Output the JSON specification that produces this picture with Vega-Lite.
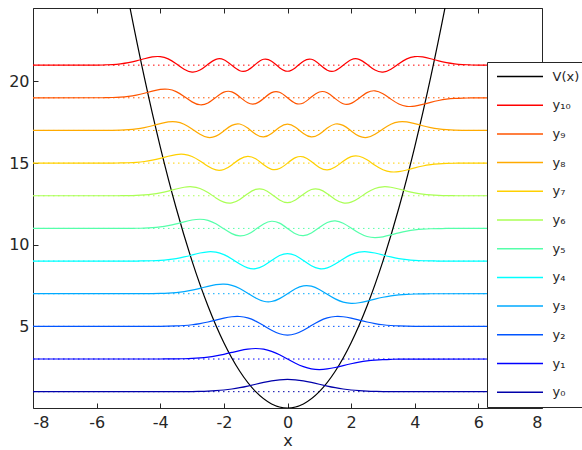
{
  "$schema": "https://vega.github.io/schema/vega-lite/v6.json",
  "width": 509,
  "height": 400,
  "autosize": {"type": "none"},
  "padding": {"left": 33, "top": 8, "right": 40, "bottom": 42},
  "background": "white",
  "config": {
    "font": "DejaVu Sans",
    "view": {"stroke": "#262626", "strokeWidth": 1},
    "axis": {"grid": false, "domain": false, "tickSize": -5, "tickColor": "#262626", "labelFont": "DejaVu Sans", "labelFontSize": 16, "labelColor": "#262626", "titleFont": "DejaVu Sans", "titleFontSize": 16, "titleFontWeight": "normal", "titleColor": "#262626"},
    "legend": {"symbolType": "stroke", "symbolSize": 2116, "symbolStrokeWidth": 1.5, "symbolOffset": 2.5, "labelOffset": 8.5, "labelFont": "DejaVu Sans", "labelFontSize": 13, "labelColor": "#262626", "labelLimit": 0, "clipHeight": 16, "rowPadding": 12.7, "padding": 6.5, "fillColor": "white", "strokeColor": "#262626", "cornerRadius": 0}
  },
  "datasets": {
    "levels": [
      {"s": "y₀", "E": 1}, {"s": "y₁", "E": 3}, {"s": "y₂", "E": 5}, {"s": "y₃", "E": 7}, {"s": "y₄", "E": 9}, {"s": "y₅", "E": 11},
      {"s": "y₆", "E": 13}, {"s": "y₇", "E": 15}, {"s": "y₈", "E": 17}, {"s": "y₉", "E": 19}, {"s": "y₁₀", "E": 21}
    ],
    "curves": [
      {"s": "V(x)", "x": -6, "y": 36}, {"s": "V(x)", "x": -5.5, "y": 30.25}, {"s": "V(x)", "x": -5, "y": 25}, {"s": "V(x)", "x": -4.5, "y": 20.25}, {"s": "V(x)", "x": -4, "y": 16}, {"s": "V(x)", "x": -3.5, "y": 12.25}, {"s": "V(x)", "x": -3, "y": 9}, {"s": "V(x)", "x": -2.5, "y": 6.25}, {"s": "V(x)", "x": -2, "y": 4}, {"s": "V(x)", "x": -1.5, "y": 2.25}, {"s": "V(x)", "x": -1, "y": 1}, {"s": "V(x)", "x": -0.5, "y": 0.25}, {"s": "V(x)", "x": 0, "y": 0},
      {"s": "V(x)", "x": 0.5, "y": 0.25}, {"s": "V(x)", "x": 1, "y": 1}, {"s": "V(x)", "x": 1.5, "y": 2.25}, {"s": "V(x)", "x": 2, "y": 4}, {"s": "V(x)", "x": 2.5, "y": 6.25}, {"s": "V(x)", "x": 3, "y": 9}, {"s": "V(x)", "x": 3.5, "y": 12.25}, {"s": "V(x)", "x": 4, "y": 16}, {"s": "V(x)", "x": 4.5, "y": 20.25}, {"s": "V(x)", "x": 5, "y": 25}, {"s": "V(x)", "x": 5.5, "y": 30.25}, {"s": "V(x)", "x": 6, "y": 36},

      {"s": "y₁₀", "x": -8, "y": 21}, {"s": "y₁₀", "x": -6, "y": 21.0057}, {"s": "y₁₀", "x": -5.75, "y": 21.0149}, {"s": "y₁₀", "x": -5.5, "y": 21.0358}, {"s": "y₁₀", "x": -5.25, "y": 21.0774}, {"s": "y₁₀", "x": -5, "y": 21.1504}, {"s": "y₁₀", "x": -4.75, "y": 21.2595}, {"s": "y₁₀", "x": -4.5, "y": 21.3913}, {"s": "y₁₀", "x": -4.25, "y": 21.5021}, {"s": "y₁₀", "x": -4, "y": 21.5208}, {"s": "y₁₀", "x": -3.75, "y": 21.3824}, {"s": "y₁₀", "x": -3.5, "y": 21.0886}, {"s": "y₁₀", "x": -3.25, "y": 20.7545}, {"s": "y₁₀", "x": -3, "y": 20.5765}, {"s": "y₁₀", "x": -2.75, "y": 20.697}, {"s": "y₁₀", "x": -2.5, "y": 21.051}, {"s": "y₁₀", "x": -2.25, "y": 21.3568}, {"s": "y₁₀", "x": -2, "y": 21.3342}, {"s": "y₁₀", "x": -1.75, "y": 20.989}, {"s": "y₁₀", "x": -1.5, "y": 20.6584}, {"s": "y₁₀", "x": -1.25, "y": 20.6916}, {"s": "y₁₀", "x": -1, "y": 21.0615}, {"s": "y₁₀", "x": -0.75, "y": 21.3603}, {"s": "y₁₀", "x": -0.5, "y": 21.2457}, {"s": "y₁₀", "x": -0.25, "y": 20.8462}, {"s": "y₁₀", "x": 0, "y": 20.6274},
      {"s": "y₁₀", "x": 0.25, "y": 20.8462}, {"s": "y₁₀", "x": 0.5, "y": 21.2457}, {"s": "y₁₀", "x": 0.75, "y": 21.3603}, {"s": "y₁₀", "x": 1, "y": 21.0615}, {"s": "y₁₀", "x": 1.25, "y": 20.6916}, {"s": "y₁₀", "x": 1.5, "y": 20.6584}, {"s": "y₁₀", "x": 1.75, "y": 20.989}, {"s": "y₁₀", "x": 2, "y": 21.3342}, {"s": "y₁₀", "x": 2.25, "y": 21.3568}, {"s": "y₁₀", "x": 2.5, "y": 21.051}, {"s": "y₁₀", "x": 2.75, "y": 20.697}, {"s": "y₁₀", "x": 3, "y": 20.5765}, {"s": "y₁₀", "x": 3.25, "y": 20.7545}, {"s": "y₁₀", "x": 3.5, "y": 21.0886}, {"s": "y₁₀", "x": 3.75, "y": 21.3824}, {"s": "y₁₀", "x": 4, "y": 21.5208}, {"s": "y₁₀", "x": 4.25, "y": 21.5021}, {"s": "y₁₀", "x": 4.5, "y": 21.3913}, {"s": "y₁₀", "x": 4.75, "y": 21.2595}, {"s": "y₁₀", "x": 5, "y": 21.1504}, {"s": "y₁₀", "x": 5.25, "y": 21.0774}, {"s": "y₁₀", "x": 5.5, "y": 21.0358}, {"s": "y₁₀", "x": 5.75, "y": 21.0149}, {"s": "y₁₀", "x": 6, "y": 21.0057}, {"s": "y₁₀", "x": 8, "y": 21},

      {"s": "y₉", "x": -8, "y": 19}, {"s": "y₉", "x": -6, "y": 19.0026}, {"s": "y₉", "x": -5.75, "y": 19.007}, {"s": "y₉", "x": -5.5, "y": 19.0176}, {"s": "y₉", "x": -5.25, "y": 19.041}, {"s": "y₉", "x": -5, "y": 19.0865}, {"s": "y₉", "x": -4.75, "y": 19.1639}, {"s": "y₉", "x": -4.5, "y": 19.2762}, {"s": "y₉", "x": -4.25, "y": 19.4075}, {"s": "y₉", "x": -4, "y": 19.5126}, {"s": "y₉", "x": -3.75, "y": 19.522}, {"s": "y₉", "x": -3.5, "y": 19.376}, {"s": "y₉", "x": -3.25, "y": 19.0811}, {"s": "y₉", "x": -3, "y": 18.7509}, {"s": "y₉", "x": -2.75, "y": 18.5724}, {"s": "y₉", "x": -2.5, "y": 18.6822}, {"s": "y₉", "x": -2.25, "y": 19.0265}, {"s": "y₉", "x": -2, "y": 19.3441}, {"s": "y₉", "x": -1.75, "y": 19.3628}, {"s": "y₉", "x": -1.5, "y": 19.0507}, {"s": "y₉", "x": -1.25, "y": 18.6928}, {"s": "y₉", "x": -1, "y": 18.6417}, {"s": "y₉", "x": -0.75, "y": 18.9563}, {"s": "y₉", "x": -0.5, "y": 19.3152}, {"s": "y₉", "x": -0.25, "y": 19.339}, {"s": "y₉", "x": 0, "y": 19},
      {"s": "y₉", "x": 0.25, "y": 18.661}, {"s": "y₉", "x": 0.5, "y": 18.6848}, {"s": "y₉", "x": 0.75, "y": 19.0437}, {"s": "y₉", "x": 1, "y": 19.3583}, {"s": "y₉", "x": 1.25, "y": 19.3072}, {"s": "y₉", "x": 1.5, "y": 18.9493}, {"s": "y₉", "x": 1.75, "y": 18.6372}, {"s": "y₉", "x": 2, "y": 18.6559}, {"s": "y₉", "x": 2.25, "y": 18.9735}, {"s": "y₉", "x": 2.5, "y": 19.3178}, {"s": "y₉", "x": 2.75, "y": 19.4276}, {"s": "y₉", "x": 3, "y": 19.2491}, {"s": "y₉", "x": 3.25, "y": 18.9189}, {"s": "y₉", "x": 3.5, "y": 18.624}, {"s": "y₉", "x": 3.75, "y": 18.478}, {"s": "y₉", "x": 4, "y": 18.4874}, {"s": "y₉", "x": 4.25, "y": 18.5925}, {"s": "y₉", "x": 4.5, "y": 18.7238}, {"s": "y₉", "x": 4.75, "y": 18.8361}, {"s": "y₉", "x": 5, "y": 18.9135}, {"s": "y₉", "x": 5.25, "y": 18.959}, {"s": "y₉", "x": 5.5, "y": 18.9824}, {"s": "y₉", "x": 5.75, "y": 18.993}, {"s": "y₉", "x": 6, "y": 18.9974}, {"s": "y₉", "x": 8, "y": 19},

      {"s": "y₈", "x": -8, "y": 17}, {"s": "y₈", "x": -6, "y": 17.001}, {"s": "y₈", "x": -5.75, "y": 17.003}, {"s": "y₈", "x": -5.5, "y": 17.008}, {"s": "y₈", "x": -5.25, "y": 17.02}, {"s": "y₈", "x": -5, "y": 17.0454}, {"s": "y₈", "x": -4.75, "y": 17.0935}, {"s": "y₈", "x": -4.5, "y": 17.1735}, {"s": "y₈", "x": -4.25, "y": 17.2873}, {"s": "y₈", "x": -4, "y": 17.4176}, {"s": "y₈", "x": -3.75, "y": 17.5197}, {"s": "y₈", "x": -3.5, "y": 17.5269}, {"s": "y₈", "x": -3.25, "y": 17.3831}, {"s": "y₈", "x": -3, "y": 17.0941}, {"s": "y₈", "x": -2.75, "y": 16.7651}, {"s": "y₈", "x": -2.5, "y": 16.5717}, {"s": "y₈", "x": -2.25, "y": 16.652}, {"s": "y₈", "x": -2, "y": 16.9722}, {"s": "y₈", "x": -1.75, "y": 17.3109}, {"s": "y₈", "x": -1.5, "y": 17.396}, {"s": "y₈", "x": -1.25, "y": 17.1441}, {"s": "y₈", "x": -1, "y": 16.7663}, {"s": "y₈", "x": -0.75, "y": 16.6047}, {"s": "y₈", "x": -0.5, "y": 16.8153}, {"s": "y₈", "x": -0.25, "y": 17.202}, {"s": "y₈", "x": 0, "y": 17.3928},
      {"s": "y₈", "x": 0.25, "y": 17.202}, {"s": "y₈", "x": 0.5, "y": 16.8153}, {"s": "y₈", "x": 0.75, "y": 16.6047}, {"s": "y₈", "x": 1, "y": 16.7663}, {"s": "y₈", "x": 1.25, "y": 17.1441}, {"s": "y₈", "x": 1.5, "y": 17.396}, {"s": "y₈", "x": 1.75, "y": 17.3109}, {"s": "y₈", "x": 2, "y": 16.9722}, {"s": "y₈", "x": 2.25, "y": 16.652}, {"s": "y₈", "x": 2.5, "y": 16.5717}, {"s": "y₈", "x": 2.75, "y": 16.7651}, {"s": "y₈", "x": 3, "y": 17.0941}, {"s": "y₈", "x": 3.25, "y": 17.3831}, {"s": "y₈", "x": 3.5, "y": 17.5269}, {"s": "y₈", "x": 3.75, "y": 17.5197}, {"s": "y₈", "x": 4, "y": 17.4176}, {"s": "y₈", "x": 4.25, "y": 17.2873}, {"s": "y₈", "x": 4.5, "y": 17.1735}, {"s": "y₈", "x": 4.75, "y": 17.0935}, {"s": "y₈", "x": 5, "y": 17.0454}, {"s": "y₈", "x": 5.25, "y": 17.02}, {"s": "y₈", "x": 5.5, "y": 17.008}, {"s": "y₈", "x": 5.75, "y": 17.003}, {"s": "y₈", "x": 6, "y": 17.001}, {"s": "y₈", "x": 8, "y": 17},

      {"s": "y₇", "x": -8, "y": 15}, {"s": "y₇", "x": -5.75, "y": 15.0012}, {"s": "y₇", "x": -5.5, "y": 15.0034}, {"s": "y₇", "x": -5.25, "y": 15.0089}, {"s": "y₇", "x": -5, "y": 15.0216}, {"s": "y₇", "x": -4.75, "y": 15.0482}, {"s": "y₇", "x": -4.5, "y": 15.0975}, {"s": "y₇", "x": -4.25, "y": 15.1782}, {"s": "y₇", "x": -4, "y": 15.2915}, {"s": "y₇", "x": -3.75, "y": 15.4208}, {"s": "y₇", "x": -3.5, "y": 15.5233}, {"s": "y₇", "x": -3.25, "y": 15.5365}, {"s": "y₇", "x": -3, "y": 15.4054}, {"s": "y₇", "x": -2.75, "y": 15.1305}, {"s": "y₇", "x": -2.5, "y": 14.8017}, {"s": "y₇", "x": -2.25, "y": 14.5804}, {"s": "y₇", "x": -2, "y": 14.6072}, {"s": "y₇", "x": -1.75, "y": 14.8872}, {"s": "y₇", "x": -1.5, "y": 15.2432}, {"s": "y₇", "x": -1.25, "y": 15.4159}, {"s": "y₇", "x": -1, "y": 15.2632}, {"s": "y₇", "x": -0.75, "y": 14.8981}, {"s": "y₇", "x": -0.5, "y": 14.6195}, {"s": "y₇", "x": -0.25, "y": 14.6657}, {"s": "y₇", "x": 0, "y": 15},
      {"s": "y₇", "x": 0.25, "y": 15.3343}, {"s": "y₇", "x": 0.5, "y": 15.3805}, {"s": "y₇", "x": 0.75, "y": 15.1019}, {"s": "y₇", "x": 1, "y": 14.7368}, {"s": "y₇", "x": 1.25, "y": 14.5841}, {"s": "y₇", "x": 1.5, "y": 14.7568}, {"s": "y₇", "x": 1.75, "y": 15.1128}, {"s": "y₇", "x": 2, "y": 15.3928}, {"s": "y₇", "x": 2.25, "y": 15.4196}, {"s": "y₇", "x": 2.5, "y": 15.1983}, {"s": "y₇", "x": 2.75, "y": 14.8695}, {"s": "y₇", "x": 3, "y": 14.5946}, {"s": "y₇", "x": 3.25, "y": 14.4635}, {"s": "y₇", "x": 3.5, "y": 14.4767}, {"s": "y₇", "x": 3.75, "y": 14.5792}, {"s": "y₇", "x": 4, "y": 14.7085}, {"s": "y₇", "x": 4.25, "y": 14.8218}, {"s": "y₇", "x": 4.5, "y": 14.9025}, {"s": "y₇", "x": 4.75, "y": 14.9518}, {"s": "y₇", "x": 5, "y": 14.9784}, {"s": "y₇", "x": 5.25, "y": 14.9911}, {"s": "y₇", "x": 5.5, "y": 14.9966}, {"s": "y₇", "x": 5.75, "y": 14.9988}, {"s": "y₇", "x": 8, "y": 15},

      {"s": "y₆", "x": -8, "y": 13}, {"s": "y₆", "x": -5.5, "y": 13.0013}, {"s": "y₆", "x": -5.25, "y": 13.0036}, {"s": "y₆", "x": -5, "y": 13.0094}, {"s": "y₆", "x": -4.75, "y": 13.0224}, {"s": "y₆", "x": -4.5, "y": 13.0489}, {"s": "y₆", "x": -4.25, "y": 13.0977}, {"s": "y₆", "x": -4, "y": 13.1769}, {"s": "y₆", "x": -3.75, "y": 13.2878}, {"s": "y₆", "x": -3.5, "y": 13.4158}, {"s": "y₆", "x": -3.25, "y": 13.5224}, {"s": "y₆", "x": -3, "y": 13.5495}, {"s": "y₆", "x": -2.75, "y": 13.443}, {"s": "y₆", "x": -2.5, "y": 13.1929}, {"s": "y₆", "x": -2.25, "y": 12.8674}, {"s": "y₆", "x": -2, "y": 12.6098}, {"s": "y₆", "x": -1.75, "y": 12.5621}, {"s": "y₆", "x": -1.5, "y": 12.7717}, {"s": "y₆", "x": -1.25, "y": 13.1238}, {"s": "y₆", "x": -1, "y": 13.3905}, {"s": "y₆", "x": -0.75, "y": 13.3817}, {"s": "y₆", "x": -0.5, "y": 13.0957}, {"s": "y₆", "x": -0.25, "y": 12.7393}, {"s": "y₆", "x": 0, "y": 12.5801},
      {"s": "y₆", "x": 0.25, "y": 12.7393}, {"s": "y₆", "x": 0.5, "y": 13.0957}, {"s": "y₆", "x": 0.75, "y": 13.3817}, {"s": "y₆", "x": 1, "y": 13.3905}, {"s": "y₆", "x": 1.25, "y": 13.1238}, {"s": "y₆", "x": 1.5, "y": 12.7717}, {"s": "y₆", "x": 1.75, "y": 12.5621}, {"s": "y₆", "x": 2, "y": 12.6098}, {"s": "y₆", "x": 2.25, "y": 12.8674}, {"s": "y₆", "x": 2.5, "y": 13.1929}, {"s": "y₆", "x": 2.75, "y": 13.443}, {"s": "y₆", "x": 3, "y": 13.5495}, {"s": "y₆", "x": 3.25, "y": 13.5224}, {"s": "y₆", "x": 3.5, "y": 13.4158}, {"s": "y₆", "x": 3.75, "y": 13.2878}, {"s": "y₆", "x": 4, "y": 13.1769}, {"s": "y₆", "x": 4.25, "y": 13.0977}, {"s": "y₆", "x": 4.5, "y": 13.0489}, {"s": "y₆", "x": 4.75, "y": 13.0224}, {"s": "y₆", "x": 5, "y": 13.0094}, {"s": "y₆", "x": 5.25, "y": 13.0036}, {"s": "y₆", "x": 5.5, "y": 13.0013}, {"s": "y₆", "x": 8, "y": 13},

      {"s": "y₅", "x": -8, "y": 11}, {"s": "y₅", "x": -5.25, "y": 11.0013}, {"s": "y₅", "x": -5, "y": 11.0036}, {"s": "y₅", "x": -4.75, "y": 11.0093}, {"s": "y₅", "x": -4.5, "y": 11.0219}, {"s": "y₅", "x": -4.25, "y": 11.0473}, {"s": "y₅", "x": -4, "y": 11.0936}, {"s": "y₅", "x": -3.75, "y": 11.1687}, {"s": "y₅", "x": -3.5, "y": 11.2749}, {"s": "y₅", "x": -3.25, "y": 11.4008}, {"s": "y₅", "x": -3, "y": 11.5139}, {"s": "y₅", "x": -2.75, "y": 11.5623}, {"s": "y₅", "x": -2.5, "y": 11.4926}, {"s": "y₅", "x": -2.25, "y": 11.2809}, {"s": "y₅", "x": -2, "y": 10.9738}, {"s": "y₅", "x": -1.75, "y": 10.6795}, {"s": "y₅", "x": -1.5, "y": 10.5396}, {"s": "y₅", "x": -1.25, "y": 10.6401}, {"s": "y₅", "x": -1, "y": 10.9412}, {"s": "y₅", "x": -0.75, "y": 11.2753}, {"s": "y₅", "x": -0.5, "y": 11.4386}, {"s": "y₅", "x": -0.25, "y": 11.3234}, {"s": "y₅", "x": 0, "y": 11},
      {"s": "y₅", "x": 0.25, "y": 10.6766}, {"s": "y₅", "x": 0.5, "y": 10.5614}, {"s": "y₅", "x": 0.75, "y": 10.7247}, {"s": "y₅", "x": 1, "y": 11.0588}, {"s": "y₅", "x": 1.25, "y": 11.3599}, {"s": "y₅", "x": 1.5, "y": 11.4604}, {"s": "y₅", "x": 1.75, "y": 11.3205}, {"s": "y₅", "x": 2, "y": 11.0262}, {"s": "y₅", "x": 2.25, "y": 10.7191}, {"s": "y₅", "x": 2.5, "y": 10.5074}, {"s": "y₅", "x": 2.75, "y": 10.4377}, {"s": "y₅", "x": 3, "y": 10.4861}, {"s": "y₅", "x": 3.25, "y": 10.5992}, {"s": "y₅", "x": 3.5, "y": 10.7251}, {"s": "y₅", "x": 3.75, "y": 10.8313}, {"s": "y₅", "x": 4, "y": 10.9064}, {"s": "y₅", "x": 4.25, "y": 10.9527}, {"s": "y₅", "x": 4.5, "y": 10.9781}, {"s": "y₅", "x": 4.75, "y": 10.9907}, {"s": "y₅", "x": 5, "y": 10.9964}, {"s": "y₅", "x": 5.25, "y": 10.9987}, {"s": "y₅", "x": 8, "y": 11},

      {"s": "y₄", "x": -8, "y": 9}, {"s": "y₄", "x": -5, "y": 9.0013}, {"s": "y₄", "x": -4.75, "y": 9.0034}, {"s": "y₄", "x": -4.5, "y": 9.0086}, {"s": "y₄", "x": -4.25, "y": 9.02}, {"s": "y₄", "x": -4, "y": 9.0429}, {"s": "y₄", "x": -3.75, "y": 9.0847}, {"s": "y₄", "x": -3.5, "y": 9.153}, {"s": "y₄", "x": -3.25, "y": 9.2515}, {"s": "y₄", "x": -3, "y": 9.373}, {"s": "y₄", "x": -2.75, "y": 9.4928}, {"s": "y₄", "x": -2.5, "y": 9.5676}, {"s": "y₄", "x": -2.25, "y": 9.5451}, {"s": "y₄", "x": -2, "y": 9.3943}, {"s": "y₄", "x": -1.75, "y": 9.1249}, {"s": "y₄", "x": -1.5, "y": 8.8133}, {"s": "y₄", "x": -1.25, "y": 8.5799}, {"s": "y₄", "x": -1, "y": 8.535}, {"s": "y₄", "x": -0.75, "y": 8.7125}, {"s": "y₄", "x": -0.5, "y": 9.0338}, {"s": "y₄", "x": -0.25, "y": 9.3367}, {"s": "y₄", "x": 0, "y": 9.46},
      {"s": "y₄", "x": 0.25, "y": 9.3367}, {"s": "y₄", "x": 0.5, "y": 9.0338}, {"s": "y₄", "x": 0.75, "y": 8.7125}, {"s": "y₄", "x": 1, "y": 8.535}, {"s": "y₄", "x": 1.25, "y": 8.5799}, {"s": "y₄", "x": 1.5, "y": 8.8133}, {"s": "y₄", "x": 1.75, "y": 9.1249}, {"s": "y₄", "x": 2, "y": 9.3943}, {"s": "y₄", "x": 2.25, "y": 9.5451}, {"s": "y₄", "x": 2.5, "y": 9.5676}, {"s": "y₄", "x": 2.75, "y": 9.4928}, {"s": "y₄", "x": 3, "y": 9.373}, {"s": "y₄", "x": 3.25, "y": 9.2515}, {"s": "y₄", "x": 3.5, "y": 9.153}, {"s": "y₄", "x": 3.75, "y": 9.0847}, {"s": "y₄", "x": 4, "y": 9.0429}, {"s": "y₄", "x": 4.25, "y": 9.02}, {"s": "y₄", "x": 4.5, "y": 9.0086}, {"s": "y₄", "x": 4.75, "y": 9.0034}, {"s": "y₄", "x": 5, "y": 9.0013}, {"s": "y₄", "x": 8, "y": 9},

      {"s": "y₃", "x": -8, "y": 7}, {"s": "y₃", "x": -4.75, "y": 7.0011}, {"s": "y₃", "x": -4.5, "y": 7.0029}, {"s": "y₃", "x": -4.25, "y": 7.0073}, {"s": "y₃", "x": -4, "y": 7.0169}, {"s": "y₃", "x": -3.75, "y": 7.0361}, {"s": "y₃", "x": -3.5, "y": 7.0714}, {"s": "y₃", "x": -3.25, "y": 7.1299}, {"s": "y₃", "x": -3, "y": 7.2168}, {"s": "y₃", "x": -2.75, "y": 7.3296}, {"s": "y₃", "x": -2.5, "y": 7.4525}, {"s": "y₃", "x": -2.25, "y": 7.5531}, {"s": "y₃", "x": -2, "y": 7.5869}, {"s": "y₃", "x": -1.75, "y": 7.5129}, {"s": "y₃", "x": -1.5, "y": 7.3168}, {"s": "y₃", "x": -1.25, "y": 7.031}, {"s": "y₃", "x": -1, "y": 6.737}, {"s": "y₃", "x": -0.75, "y": 6.5397}, {"s": "y₃", "x": -0.5, "y": 6.5216}, {"s": "y₃", "x": -0.25, "y": 6.6979}, {"s": "y₃", "x": 0, "y": 7},
      {"s": "y₃", "x": 0.25, "y": 7.3021}, {"s": "y₃", "x": 0.5, "y": 7.4784}, {"s": "y₃", "x": 0.75, "y": 7.4603}, {"s": "y₃", "x": 1, "y": 7.263}, {"s": "y₃", "x": 1.25, "y": 6.969}, {"s": "y₃", "x": 1.5, "y": 6.6832}, {"s": "y₃", "x": 1.75, "y": 6.4871}, {"s": "y₃", "x": 2, "y": 6.4131}, {"s": "y₃", "x": 2.25, "y": 6.4469}, {"s": "y₃", "x": 2.5, "y": 6.5475}, {"s": "y₃", "x": 2.75, "y": 6.6704}, {"s": "y₃", "x": 3, "y": 6.7832}, {"s": "y₃", "x": 3.25, "y": 6.8701}, {"s": "y₃", "x": 3.5, "y": 6.9286}, {"s": "y₃", "x": 3.75, "y": 6.9639}, {"s": "y₃", "x": 4, "y": 6.9831}, {"s": "y₃", "x": 4.25, "y": 6.9927}, {"s": "y₃", "x": 4.5, "y": 6.9971}, {"s": "y₃", "x": 4.75, "y": 6.9989}, {"s": "y₃", "x": 8, "y": 7},

      {"s": "y₂", "x": -8, "y": 5}, {"s": "y₂", "x": -4.5, "y": 5.0008}, {"s": "y₂", "x": -4.25, "y": 5.0022}, {"s": "y₂", "x": -4, "y": 5.0055}, {"s": "y₂", "x": -3.75, "y": 5.0127}, {"s": "y₂", "x": -3.5, "y": 5.0273}, {"s": "y₂", "x": -3.25, "y": 5.0544}, {"s": "y₂", "x": -3, "y": 5.1003}, {"s": "y₂", "x": -2.75, "y": 5.171}, {"s": "y₂", "x": -2.5, "y": 5.2684}, {"s": "y₂", "x": -2.25, "y": 5.3856}, {"s": "y₂", "x": -2, "y": 5.5032}, {"s": "y₂", "x": -1.75, "y": 5.5887}, {"s": "y₂", "x": -1.5, "y": 5.6035}, {"s": "y₂", "x": -1.25, "y": 5.5167}, {"s": "y₂", "x": -1, "y": 5.3221}, {"s": "y₂", "x": -0.75, "y": 5.0501}, {"s": "y₂", "x": -0.5, "y": 4.7656}, {"s": "y₂", "x": -0.25, "y": 4.5496}, {"s": "y₂", "x": 0, "y": 4.4689},
      {"s": "y₂", "x": 0.25, "y": 4.5496}, {"s": "y₂", "x": 0.5, "y": 4.7656}, {"s": "y₂", "x": 0.75, "y": 5.0501}, {"s": "y₂", "x": 1, "y": 5.3221}, {"s": "y₂", "x": 1.25, "y": 5.5167}, {"s": "y₂", "x": 1.5, "y": 5.6035}, {"s": "y₂", "x": 1.75, "y": 5.5887}, {"s": "y₂", "x": 2, "y": 5.5032}, {"s": "y₂", "x": 2.25, "y": 5.3856}, {"s": "y₂", "x": 2.5, "y": 5.2684}, {"s": "y₂", "x": 2.75, "y": 5.171}, {"s": "y₂", "x": 3, "y": 5.1003}, {"s": "y₂", "x": 3.25, "y": 5.0544}, {"s": "y₂", "x": 3.5, "y": 5.0273}, {"s": "y₂", "x": 3.75, "y": 5.0127}, {"s": "y₂", "x": 4, "y": 5.0055}, {"s": "y₂", "x": 4.25, "y": 5.0022}, {"s": "y₂", "x": 4.5, "y": 5.0008}, {"s": "y₂", "x": 8, "y": 5},

      {"s": "y₁", "x": -8, "y": 3}, {"s": "y₁", "x": -4.25, "y": 3.0005}, {"s": "y₁", "x": -4, "y": 3.0014}, {"s": "y₁", "x": -3.75, "y": 3.0035}, {"s": "y₁", "x": -3.5, "y": 3.0081}, {"s": "y₁", "x": -3.25, "y": 3.0176}, {"s": "y₁", "x": -3, "y": 3.0354}, {"s": "y₁", "x": -2.75, "y": 3.0666}, {"s": "y₁", "x": -2.5, "y": 3.1167}, {"s": "y₁", "x": -2.25, "y": 3.1902}, {"s": "y₁", "x": -2, "y": 3.2875}, {"s": "y₁", "x": -1.75, "y": 3.402}, {"s": "y₁", "x": -1.5, "y": 3.5173}, {"s": "y₁", "x": -1.25, "y": 3.6079}, {"s": "y₁", "x": -1, "y": 3.6443}, {"s": "y₁", "x": -0.75, "y": 3.6014}, {"s": "y₁", "x": -0.5, "y": 3.4687}, {"s": "y₁", "x": -0.25, "y": 3.2574}, {"s": "y₁", "x": 0, "y": 3},
      {"s": "y₁", "x": 0.25, "y": 2.7426}, {"s": "y₁", "x": 0.5, "y": 2.5313}, {"s": "y₁", "x": 0.75, "y": 2.3986}, {"s": "y₁", "x": 1, "y": 2.3557}, {"s": "y₁", "x": 1.25, "y": 2.3921}, {"s": "y₁", "x": 1.5, "y": 2.4827}, {"s": "y₁", "x": 1.75, "y": 2.598}, {"s": "y₁", "x": 2, "y": 2.7125}, {"s": "y₁", "x": 2.25, "y": 2.8098}, {"s": "y₁", "x": 2.5, "y": 2.8833}, {"s": "y₁", "x": 2.75, "y": 2.9334}, {"s": "y₁", "x": 3, "y": 2.9646}, {"s": "y₁", "x": 3.25, "y": 2.9824}, {"s": "y₁", "x": 3.5, "y": 2.9919}, {"s": "y₁", "x": 3.75, "y": 2.9965}, {"s": "y₁", "x": 4, "y": 2.9986}, {"s": "y₁", "x": 4.25, "y": 2.9995}, {"s": "y₁", "x": 8, "y": 3},

      {"s": "y₀", "x": -8, "y": 1}, {"s": "y₀", "x": -4, "y": 1.0003}, {"s": "y₀", "x": -3.75, "y": 1.0007}, {"s": "y₀", "x": -3.5, "y": 1.0016}, {"s": "y₀", "x": -3.25, "y": 1.0038}, {"s": "y₀", "x": -3, "y": 1.0083}, {"s": "y₀", "x": -2.75, "y": 1.0171}, {"s": "y₀", "x": -2.5, "y": 1.033}, {"s": "y₀", "x": -2.25, "y": 1.0598}, {"s": "y₀", "x": -2, "y": 1.1017}, {"s": "y₀", "x": -1.75, "y": 1.1624}, {"s": "y₀", "x": -1.5, "y": 1.2439}, {"s": "y₀", "x": -1.25, "y": 1.3439}, {"s": "y₀", "x": -1, "y": 1.4556}, {"s": "y₀", "x": -0.75, "y": 1.567}, {"s": "y₀", "x": -0.5, "y": 1.6629}, {"s": "y₀", "x": -0.25, "y": 1.728}, {"s": "y₀", "x": 0, "y": 1.7511},
      {"s": "y₀", "x": 0.25, "y": 1.728}, {"s": "y₀", "x": 0.5, "y": 1.6629}, {"s": "y₀", "x": 0.75, "y": 1.567}, {"s": "y₀", "x": 1, "y": 1.4556}, {"s": "y₀", "x": 1.25, "y": 1.3439}, {"s": "y₀", "x": 1.5, "y": 1.2439}, {"s": "y₀", "x": 1.75, "y": 1.1624}, {"s": "y₀", "x": 2, "y": 1.1017}, {"s": "y₀", "x": 2.25, "y": 1.0598}, {"s": "y₀", "x": 2.5, "y": 1.033}, {"s": "y₀", "x": 2.75, "y": 1.0171}, {"s": "y₀", "x": 3, "y": 1.0083}, {"s": "y₀", "x": 3.25, "y": 1.0038}, {"s": "y₀", "x": 3.5, "y": 1.0016}, {"s": "y₀", "x": 3.75, "y": 1.0007}, {"s": "y₀", "x": 4, "y": 1.0003}, {"s": "y₀", "x": 8, "y": 1}
    ]
  },
  "layer": [
    {
      "data": {"name": "levels"},
      "mark": {"type": "rule", "strokeDash": [1.5, 3.5], "strokeWidth": 1},
      "encoding": {
        "x": {"datum": -8, "type": "quantitative", "scale": {"domain": [-8, 8], "nice": false}, "axis": {"orient": "top", "values": [-8, -6, -4, -2, 0, 2, 4, 6, 8], "labels": false, "title": null}},
        "x2": {"datum": 8},
        "y": {"field": "E", "type": "quantitative", "scale": {"domain": [0, 24.5], "nice": false, "zero": false}, "axis": {"orient": "right", "values": [5, 10, 15, 20], "labels": false, "title": null}},
        "stroke": {
          "field": "s", "type": "nominal", "legend": null,
          "scale": {
            "domain": ["y₁₀", "y₉", "y₈", "y₇", "y₆", "y₅", "y₄", "y₃", "y₂", "y₁", "y₀"],
            "range": ["#FF0000", "#FF5500", "#FFAA00", "#FFD000", "#AAFF55", "#55FFAA", "#00FFFF", "#00AAFF", "#0055FF", "#0000FF", "#0000AA"]
          }
        }
      }
    },
    {
      "data": {"name": "curves"},
      "mark": {"type": "line", "clip": true, "interpolate": "natural", "strokeWidth": 1.2},
      "encoding": {
        "x": {"field": "x", "type": "quantitative", "scale": {"domain": [-8, 8], "nice": false}, "axis": {"orient": "bottom", "values": [-8, -6, -4, -2, 0, 2, 4, 6, 8], "title": "x", "labelPadding": 11, "titlePadding": 2, "labelExpr": "replace(datum.label, '−', '-')"}},
        "y": {"field": "y", "type": "quantitative", "scale": {"domain": [0, 24.5], "nice": false, "zero": false}, "axis": {"orient": "left", "values": [5, 10, 15, 20], "title": null, "labelPadding": 9}},
        "color": {
          "field": "s", "type": "nominal", "sort": null,
          "scale": {
            "domain": ["V(x)", "y₁₀", "y₉", "y₈", "y₇", "y₆", "y₅", "y₄", "y₃", "y₂", "y₁", "y₀"],
            "range": ["#000000", "#FF0000", "#FF5500", "#FFAA00", "#FFD000", "#AAFF55", "#55FFAA", "#00FFFF", "#00AAFF", "#0055FF", "#0000FF", "#0000AA"]
          },
          "legend": {"orient": "none", "legendX": 454, "legendY": 54, "title": null}
        }
      }
    }
  ],
  "resolve": {"axis": {"x": "independent", "y": "independent"}}
}
